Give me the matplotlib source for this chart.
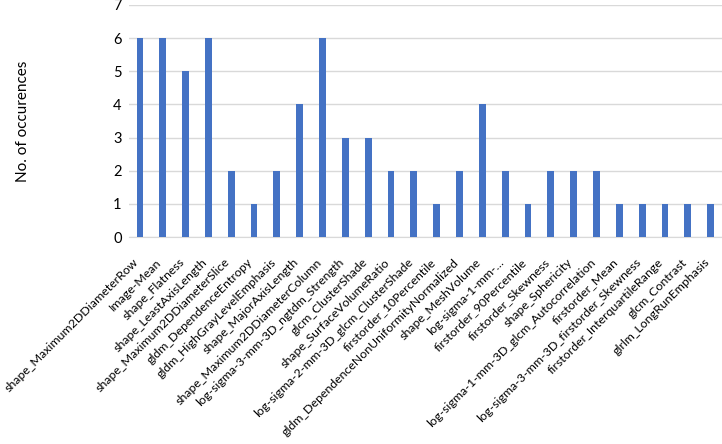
import matplotlib
matplotlib.use("Agg")
import numpy as np
import matplotlib.pyplot as plt
import matplotlib.transforms as mtransforms

plt.rcParams['font.family'] = ['Lato', 'DejaVu Sans']

features = [
    "shape_Maximum2DDiameterRow", "Image-Mean", "shape_Flatness",
    "shape_LeastAxisLength", "shape_Maximum2DDiameterSlice",
    "gldm_DependenceEntropy", "gldm_HighGrayLevelEmphasis",
    "shape_MajorAxisLength", "shape_Maximum2DDiameterColumn",
    "log-sigma-3-mm-3D_ngtdm_Strength", "glcm_ClusterShade",
    "shape_SurfaceVolumeRatio", "log-sigma-2-mm-3D_glcm_ClusterShade",
    "firstorder_10Percentile", "gldm_DependenceNonUniformityNormalized",
    "shape_MeshVolume", "log-sigma-1-mm-\u2026", "firstorder_90Percentile",
    "firstorder_Skewness", "shape_Sphericity",
    "log-sigma-1-mm-3D_glcm_Autocorrelation", "firstorder_Mean",
    "log-sigma-3-mm-3D_firstorder_Skewness", "firstorder_InterquartileRange",
    "glcm_Contrast", "glrlm_LongRunEmphasis",
]
counts = [6, 6, 5, 6, 2, 1, 2, 4, 6, 3, 3, 2, 2, 1, 2, 4, 2, 1, 2, 2, 2, 1, 1, 1, 1, 1]

fig = plt.figure(figsize=(7.22, 4.44), dpi=100)
ax = fig.add_axes([0.178, 0.466, 0.822, 0.523])

x = np.arange(len(features))
ax.bar(x, counts, width=0.3, color='#4472C4', zorder=3)

ax.set_xlim(-0.5, len(features) - 0.5)
ax.set_ylim(0, 7)
ax.set_yticks(range(8))
ax.yaxis.grid(True, color='#d9d9d9', linewidth=1, zorder=0)
for s in ['top', 'right', 'left']:
    ax.spines[s].set_visible(False)
ax.spines['bottom'].set_color('#d9d9d9')
ax.tick_params(axis='both', length=0, colors='#000000')
ax.tick_params(axis='y', pad=5, labelsize=10.5)
ax.tick_params(axis='x', pad=14)

ax.set_xticks(x)
ax.set_xticklabels(features, rotation=45, ha='right', rotation_mode='anchor', fontsize=8.9)
# nudge the slanted labels a bit to the left
shift = mtransforms.ScaledTranslation(-5 / 72, 0, fig.dpi_scale_trans)
for lbl in ax.get_xticklabels():
    lbl.set_transform(lbl.get_transform() + shift)
ax.set_ylabel("No. of occurences", fontsize=11, labelpad=60)

fig.savefig("out.png", dpi=100)
